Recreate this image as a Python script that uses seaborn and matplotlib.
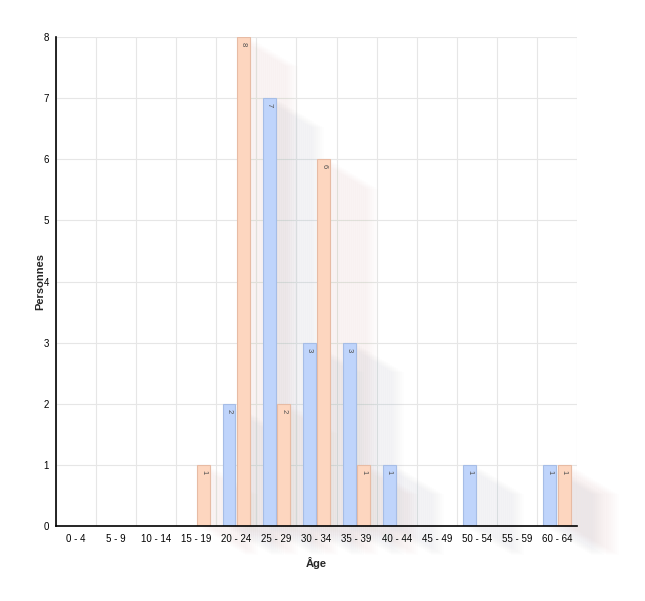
import pandas as pd
import matplotlib.pyplot as plt
import seaborn as sns
from matplotlib.patches import Rectangle

# data

age_groups = ["0 - 4", "5 - 9", "10 - 14", "15 - 19", "20 - 24", "25 - 29", "30 - 34",
              "35 - 39", "40 - 44", "45 - 49", "50 - 54", "55 - 59", "60 - 64"]
series_a = [0, 0, 0, 0, 2, 7, 3, 3, 1, 0, 1, 0, 1]
series_b = [0, 0, 0, 1, 8, 2, 6, 1, 0, 0, 0, 0, 1]
series_names = ["Hommes", "Femmes"]
colors = {"Hommes": "#bfd4fb", "Femmes": "#fdd6bf"}
edges = {"Hommes": "#a6bde6", "Femmes": "#e7bba4"}
shadow_colors = {"Hommes": "#5a6478", "Femmes": "#85695a"}

df = pd.DataFrame({
    "Âge": age_groups * 2,
    "Personnes": series_a + series_b,
    "Série": [series_names[0]] * len(age_groups) + [series_names[1]] * len(age_groups),
})

# plot

sns.set_style("white")
plt.rcParams["font.family"] = ["Liberation Sans", "DejaVu Sans"]

fig = plt.figure(figsize=(6.45, 6.01), dpi=100)
ax = fig.add_axes([56 / 645, 75 / 601, 521 / 645, 489 / 601])

sns.barplot(data=df, x="Âge", y="Personnes", hue="Série", palette=colors,
            width=0.72, gap=0.12, legend=False, ax=ax, zorder=3)

# style bars, add labels and soft diagonal shadows
n = len(age_groups)
for i, patch in enumerate(ax.patches):
    name = series_names[i // n]
    h = patch.get_height()
    if h <= 0:
        patch.set_visible(False)
        continue
    patch.set_facecolor(colors[name])
    patch.set_edgecolor(edges[name])
    patch.set_linewidth(0.8)
    x0, w = patch.get_x(), patch.get_width()
    steps = 24
    for k in range(1, steps + 1):
        sx = 0.05 * k
        sy = 0.02 * k
        ax.add_patch(Rectangle((x0 + sx, -sy), w, h, facecolor=shadow_colors[name],
                               edgecolor="none", alpha=0.009, zorder=2, clip_on=False))
    ax.text(x0 + w / 2, h - 0.08, f"{int(h)}", rotation=-90, ha="center", va="top",
            fontsize=5.5, color="#505050", zorder=4)

ax.set_ylim(0, 8)
ax.set_xlim(-0.5, n - 0.5)
ax.set_yticks(range(0, 9))
ax.set_xticks(range(n))
ax.set_xticklabels(age_groups)
ax.set_xticks([i - 0.5 for i in range(n + 1)], minor=True)
ax.grid(False)
ax.grid(axis="y", which="major", color="#e6e6e6", linewidth=0.8, zorder=0)
ax.grid(axis="x", which="minor", color="#e6e6e6", linewidth=0.8, zorder=0)
ax.tick_params(axis="both", which="both", length=0, labelsize=7, colors="black")
ax.tick_params(axis="x", pad=6)
ax.tick_params(axis="y", pad=5)

for side in ["top", "right"]:
    ax.spines[side].set_visible(False)
for side in ["left", "bottom"]:
    ax.spines[side].set_color("black")
    ax.spines[side].set_linewidth(1.2)
    ax.spines[side].set_zorder(5)

ax.set_xlabel("Âge", fontsize=8, fontweight="bold", labelpad=9)
ax.set_ylabel("Personnes", fontsize=8, fontweight="bold", labelpad=-1)

fig.savefig("out.png", dpi=100)
